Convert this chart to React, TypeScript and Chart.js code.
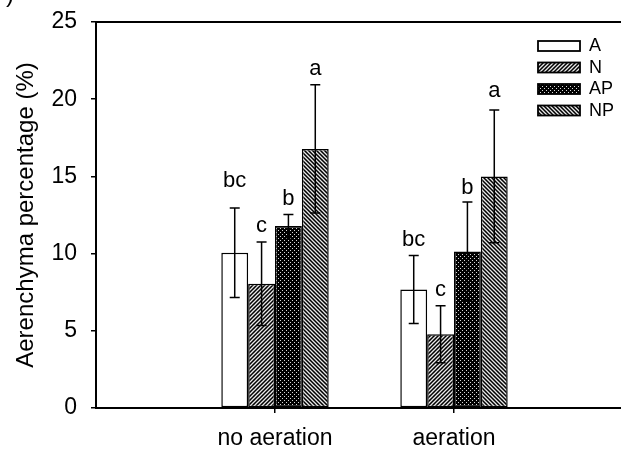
import React, { useEffect, useRef } from "react";
import { Chart, registerables } from "chart.js";

Chart.register(...registerables);

const categories = ["no aeration", "aeration"];
const seriesNames = ["A", "N", "AP", "NP"];
const valuesA = [10.05, 7.67];
const valuesN = [8.05, 4.78];
const valuesAP = [11.78, 10.14];
const valuesNP = [16.78, 15.0];
const errA = [2.9, 2.2];
const errN = [2.7, 1.85];
const errAP = [0.75, 3.2];
const errNP = [4.15, 4.3];
const lettersA = ["bc", "bc"];
const lettersN = ["c", "c"];
const lettersAP = ["b", "b"];
const lettersNP = ["a", "a"];
const letterYA = [14.73, 10.9];
const letterYN = [11.78, 7.67];
const letterYAP = [13.57, 14.26];
const letterYNP = [21.96, 20.54];
const yTicks = [0, 5, 10, 15, 20, 25];

const FONT = "'Liberation Sans', Arial, sans-serif";

function makePattern(kind: string): CanvasPattern | string {
  if (kind === "white") return "#ffffff";
  const c = document.createElement("canvas");
  const s = 4;
  c.width = s;
  c.height = s;
  const g = c.getContext("2d")!;
  g.fillStyle = "#000";
  g.fillRect(0, 0, s, s);
  if (kind === "fwd" || kind === "back") {
    g.strokeStyle = "#e8e8e8";
    g.lineWidth = 1.3;
    g.beginPath();
    if (kind === "fwd") {
      g.moveTo(-1, s + 1); g.lineTo(s + 1, -1);
      g.moveTo(-1, 1); g.lineTo(1, -1);
      g.moveTo(s - 1, s + 1); g.lineTo(s + 1, s - 1);
    } else {
      g.moveTo(-1, -1); g.lineTo(s + 1, s + 1);
      g.moveTo(-1, s - 1); g.lineTo(1, s + 1);
      g.moveTo(s - 1, -1); g.lineTo(s + 1, 1);
    }
    g.stroke();
  } else if (kind === "dots") {
    g.fillStyle = "rgba(255,255,255,0.85)";
    g.fillRect(0, 0, 1, 1);
    g.fillRect(2, 2, 1, 1);
  }
  const ctx = document.createElement("canvas").getContext("2d")!;
  return ctx.createPattern(c, "repeat")!;
}

export default function App() {
  const ref = useRef<HTMLCanvasElement>(null);
  useEffect(() => {
    const canvas = ref.current!;
    const fills = [makePattern("white"), makePattern("fwd"), makePattern("dots"), makePattern("back")];
    const vals = [valuesA, valuesN, valuesAP, valuesNP];
    const errs = [errA, errN, errAP, errNP];
    const letters = [lettersA, lettersN, lettersAP, lettersNP];
    const letterYs = [letterYA, letterYN, letterYAP, letterYNP];
    const labels = ["", ...categories, ""];

    const extras = {
      id: "extras",
      afterDatasetsDraw(chart: any) {
        const ctx = chart.ctx;
        const y = chart.scales.y;
        const area = chart.chartArea;
        ctx.save();
        // top frame
        ctx.strokeStyle = "#000";
        ctx.lineWidth = 2;
        ctx.beginPath();
        ctx.moveTo(area.left - 1, area.top);
        ctx.lineTo(area.right, area.top);
        ctx.stroke();
        // error bars and letters
        ctx.lineWidth = 1.5;
        ctx.font = `22px ${FONT}`;
        ctx.fillStyle = "#000";
        ctx.textAlign = "center";
        ctx.textBaseline = "middle";
        vals.forEach((arr, i) => {
          const meta = chart.getDatasetMeta(i);
          arr.forEach((v, j) => {
            const el = meta.data[j + 1];
            if (!el) return;
            const x = el.x;
            const yt = y.getPixelForValue(v + errs[i][j]);
            const yb = y.getPixelForValue(v - errs[i][j]);
            ctx.beginPath();
            ctx.moveTo(x, yt);
            ctx.lineTo(x, yb);
            ctx.moveTo(x - 5, yt);
            ctx.lineTo(x + 5, yt);
            ctx.moveTo(x - 5, yb);
            ctx.lineTo(x + 5, yb);
            ctx.stroke();
            ctx.fillText(letters[i][j], x, y.getPixelForValue(letterYs[i][j]));
          });
        });
        // legend
        const lx = 538;
        const ly0 = 41;
        const step = 21.5;
        ctx.textAlign = "left";
        ctx.font = `18px ${FONT}`;
        seriesNames.forEach((name, i) => {
          const top = ly0 + i * step;
          ctx.fillStyle = fills[i] as any;
          ctx.fillRect(lx, top, 42, 10);
          ctx.strokeStyle = "#000";
          ctx.lineWidth = 1.8;
          ctx.strokeRect(lx, top, 42, 10);
          ctx.fillStyle = "#000";
          ctx.fillText(name, lx + 51, top + 5.5);
        });
        // panel label fragment
        ctx.font = `24px ${FONT}`;
        ctx.textBaseline = "alphabetic";
        ctx.fillText(")", 6, 2);
        ctx.restore();
      },
    };

    const chart = new Chart(canvas, {
      type: "bar",
      data: {
        labels,
        datasets: seriesNames.map((name, i) => ({
          label: name,
          data: [null, ...vals[i], null],
          backgroundColor: fills[i] as any,
          borderColor: "#000",
          borderWidth: 1.5,
          borderSkipped: false,
          categoryPercentage: 0.6,
          barPercentage: 1.0,
        })),
      },
      options: {
        responsive: false,
        animation: false,
        devicePixelRatio: 1,
        layout: { padding: { left: 0, top: 22, right: 7, bottom: 0 } },
        plugins: { legend: { display: false }, tooltip: { enabled: false } },
        scales: {
          x: {
            type: "category",
            offset: false,
            grid: {
              offset: false,
              drawOnChartArea: false,
              drawTicks: true,
              tickLength: 5,
              lineWidth: 1.5,
              color: (c: any) => (c.index === 1 || c.index === 2 ? "#000" : "rgba(0,0,0,0)"),
            },
            border: { display: true, color: "#000", width: 2 },
            ticks: {
              autoSkip: false,
              maxRotation: 0,
              color: "#000",
              padding: 12,
              font: { family: FONT, size: 23 },
            },
            afterFit: (s: any) => {
              s.height = 46;
              s.paddingLeft = 0;
              s.paddingRight = 0;
            },
          },
          y: {
            min: 0,
            max: 25,
            afterBuildTicks: (s: any) => { s.ticks = yTicks.map((v) => ({ value: v })); },
            grid: {
              drawOnChartArea: false,
              drawTicks: true,
              tickLength: 5,
              lineWidth: 1.5,
              color: "#000",
            },
            border: { display: true, color: "#000", width: 2 },
            ticks: {
              color: "#000",
              padding: 14,
              font: { family: FONT, size: 23 },
            },
            title: {
              display: true,
              text: "Aerenchyma percentage (%)",
              color: "#000",
              font: { family: FONT, size: 24 },
              padding: { top: 12, bottom: 0 },
            },
            afterFit: (s: any) => {
              s.width = 96;
              s.paddingTop = 0;
              s.paddingBottom = 0;
            },
          },
        },
      },
      plugins: [extras],
    });
    return () => chart.destroy();
  }, []);

  return (
    <div style={{ position: "fixed", left: 0, top: 0, width: 621, height: 454, overflow: "hidden", background: "#fff" }}>
      <canvas ref={ref} width={640} height={454} style={{ display: "block" }} />
    </div>
  );
}
